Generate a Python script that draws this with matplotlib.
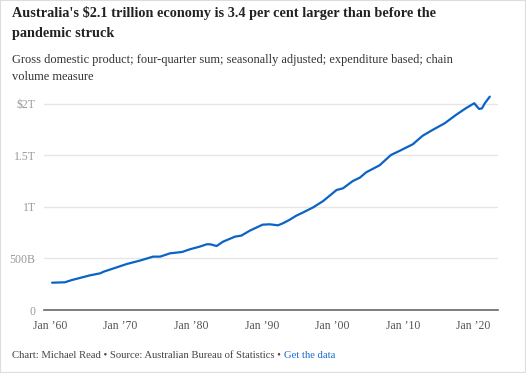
import matplotlib
matplotlib.use("Agg")
import matplotlib.pyplot as plt
from matplotlib.patches import Rectangle

plt.rcParams["font.family"] = ["Liberation Serif", "DejaVu Serif"]

# GDP, four-quarter sum, billions
years = [1960.3, 1962.1, 1963.1, 1965.7, 1967.1, 1967.6, 1970.9, 1972.7, 1974.6,
         1975.6, 1977.0, 1978.7, 1979.8, 1981.2, 1982.2, 1982.7, 1983.6, 1984.5,
         1986.2, 1987.1, 1988.3, 1990.1, 1991.1, 1992.3, 1993.0, 1993.9, 1994.9,
         1995.8, 1997.3, 1998.7, 2000.6, 2001.5, 2002.9, 2003.9, 2004.8, 2006.7,
         2008.3, 2009.5, 2011.4, 2012.8, 2014.2, 2015.9, 2017.5, 2018.9, 2020.1,
         2020.5, 2020.8, 2021.2, 2021.6, 2022.3]
gdp = [265, 269, 291, 337, 356, 372, 447, 479, 518,
       518, 550, 563, 589, 615, 638, 638, 621, 663,
       712, 722, 770, 828, 832, 822, 842, 874, 916,
       945, 997, 1058, 1165, 1181, 1252, 1285, 1337, 1405,
       1505, 1544, 1609, 1692, 1748, 1812, 1893, 1958, 2007,
       1974, 1951, 1958, 2007, 2071]

ytick_vals = [0, 500, 1000, 1500, 2000]
ytick_labels = ["0", "500B", "1T", "1.5T", "$2T"]
xtick_vals = [1960, 1970, 1980, 1990, 2000, 2010, 2020]
xtick_labels = ["Jan \u201960", "Jan \u201970", "Jan \u201980", "Jan \u201990",
                "Jan \u201900", "Jan \u201910", "Jan \u201920"]

title_lines = ["Australia's $2.1 trillion economy is 3.4 per cent larger than before the",
               "pandemic struck"]
subtitle_lines = ["Gross domestic product; four-quarter sum; seasonally adjusted; expenditure based; chain",
                  "volume measure"]

W, H = 526, 373
fig = plt.figure(figsize=(W / 100, H / 100), dpi=100)
fig.patches.append(Rectangle((0, 0), 1, 1, transform=fig.transFigure,
                             fill=False, edgecolor="#dddddd", linewidth=1.5))

ax = fig.add_axes([0.0837, 0.1689, 0.863, 0.58])
ax.plot(years, gdp, color="#0b63c5", linewidth=1.6, solid_capstyle="round")

ax.set_xlim(1959.15, 2023.46)
ax.set_ylim(0, 2100)
ax.set_yticks(ytick_vals)
ax.set_yticklabels(ytick_labels)
ax.set_xticks(xtick_vals)
ax.set_xticklabels(xtick_labels)
ax.tick_params(axis="y", length=0, pad=6, labelsize=8.5, labelcolor="#999999")
ax.tick_params(axis="x", length=0, pad=7, labelsize=8.5, labelcolor="#555555")

for v in ytick_vals[1:]:
    ax.axhline(v, color="#e6e6e6", linewidth=1, zorder=0)
for s in ["top", "right", "left"]:
    ax.spines[s].set_visible(False)
ax.spines["bottom"].set_color("#666666")
ax.spines["bottom"].set_linewidth(1.2)

for i, line in enumerate(title_lines):
    fig.text(12 / W, 1 - (13 + 21 * i) / H, line, fontsize=10.3,
             fontweight="bold", color="#222222", va="center", ha="left")
for i, line in enumerate(subtitle_lines):
    fig.text(12 / W, 1 - (60 + 16.5 * i) / H, line, fontsize=8.9,
             color="#333333", va="center", ha="left")

foot = fig.text(12 / W, 1 - 355 / H,
                "Chart: Michael Read \u2022 Source: Australian Bureau of Statistics \u2022 ",
                fontsize=7.7, color="#444444", va="center", ha="left")
fig.canvas.draw()
bb = foot.get_window_extent()
fig.text(bb.x1 / fig.bbox.width, 1 - 355 / H, "Get the data",
         fontsize=7.7, color="#1a6dcc", va="center", ha="left")

fig.savefig("out.png", dpi=100)
